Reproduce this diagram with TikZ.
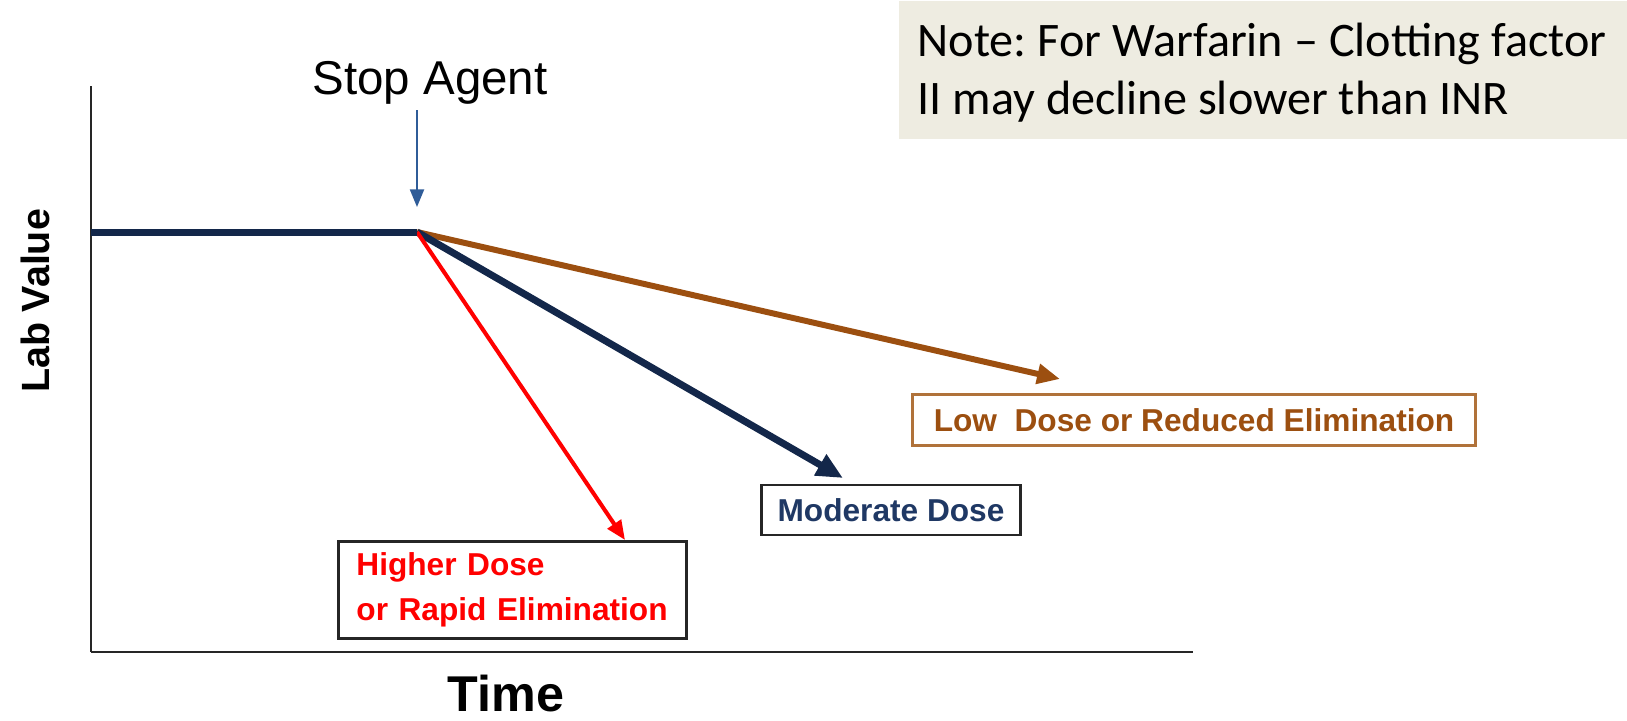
\documentclass[tikz,border=0pt]{standalone}
\usepackage{fontspec}
\setmainfont{Liberation Sans}
\newfontfamily\notefont{Carlito}
\usetikzlibrary{arrows.meta}
\definecolor{navyline}{HTML}{13274A}
\definecolor{navytext}{HTML}{1F3864}
\definecolor{brownline}{HTML}{9C4F10}
\definecolor{brownbox}{HTML}{B0723A}
\definecolor{stopblue}{HTML}{2F5C98}
\definecolor{notefill}{HTML}{EEECE1}
\frenchspacing

\begin{document}
\begin{tikzpicture}[x=0.01cm,y=-0.01cm,
  labelbox/.style={draw=black!85,line width=0.8pt,inner sep=0pt,font=\fontsize{9}{12.8}\selectfont\bfseries},
  noteline/.style={anchor=base west,inner sep=0pt,font=\notefont\fontsize{13.7}{16.5}\selectfont}]
\useasboundingbox (0,0) rectangle (1627,720);

% axes
\coordinate (ytop) at (91,86);
\coordinate (O) at (91,652);
\coordinate (xend) at (1193,652);
\draw[line width=0.6pt,black!85] (ytop) -- (O);
\draw[line width=0.8pt,black!85] (O) -- (xend);

\node[rotate=90,font=\fontsize{11.2}{13}\selectfont\bfseries] (ylab) at (35,301) {Lab Value};
\node[inner sep=1pt,font=\fontsize{14.3}{16}\selectfont\bfseries] (xlab) at (506,694) {Time};

% note
\node[fill=notefill,anchor=north west,minimum width=7.29cm,minimum height=1.38cm,inner sep=0pt] (note) at (898,0) {};
\node[noteline] (note1) at (917,56) {Note: For Warfarin – Clotting factor};
\node[noteline] (note2) at (917,114) {II may decline slower than INR};

% boxes
\node[labelbox,text=red,anchor=north west,minimum width=3.48cm,minimum height=0.97cm,text width=3.12cm,align=left] (high) at (337,540) {Higher Dose\\or Rapid Elimination};
\node[labelbox,text=navytext,minimum width=2.59cm,minimum height=0.5cm] (moderate) at (891,510) {Moderate Dose};
\node[labelbox,draw=brownbox,text=brownline,minimum width=5.62cm,minimum height=0.51cm] (low) at (1194,420) {Low\ \ Dose or Reduced Elimination};

% lab value before and after stopping
\coordinate (start) at (91,232);
\coordinate (stop) at (417,232);
\coordinate (lowend) at (1060,379);
\coordinate (modend) at (843,478);
\coordinate (highend) at (625,540);

\draw[brownline,line width=1.7pt,-{Triangle[length=6.5pt,width=5.5pt]}] (stop) -- (lowend);
\draw[navyline,line width=2pt,-{Triangle[length=7.5pt,width=6.5pt]}] (stop) -- (modend);
\draw[red,line width=1.15pt,-{Triangle[length=5.5pt,width=4.5pt]}] (stop) -- (highend);
\draw[navyline,line width=2pt] (start) -- (stop);

\node[inner sep=1.5pt,font=\fontsize{13.5}{15}\selectfont] (agent) at (430,83) {Stop Agent};
\coordinate (mark) at (417,207);
\draw[stopblue,line width=0.5pt,-{Triangle[length=5pt,width=4pt]}] (agent.south -| mark) -- (mark);

\end{tikzpicture}
\end{document}
